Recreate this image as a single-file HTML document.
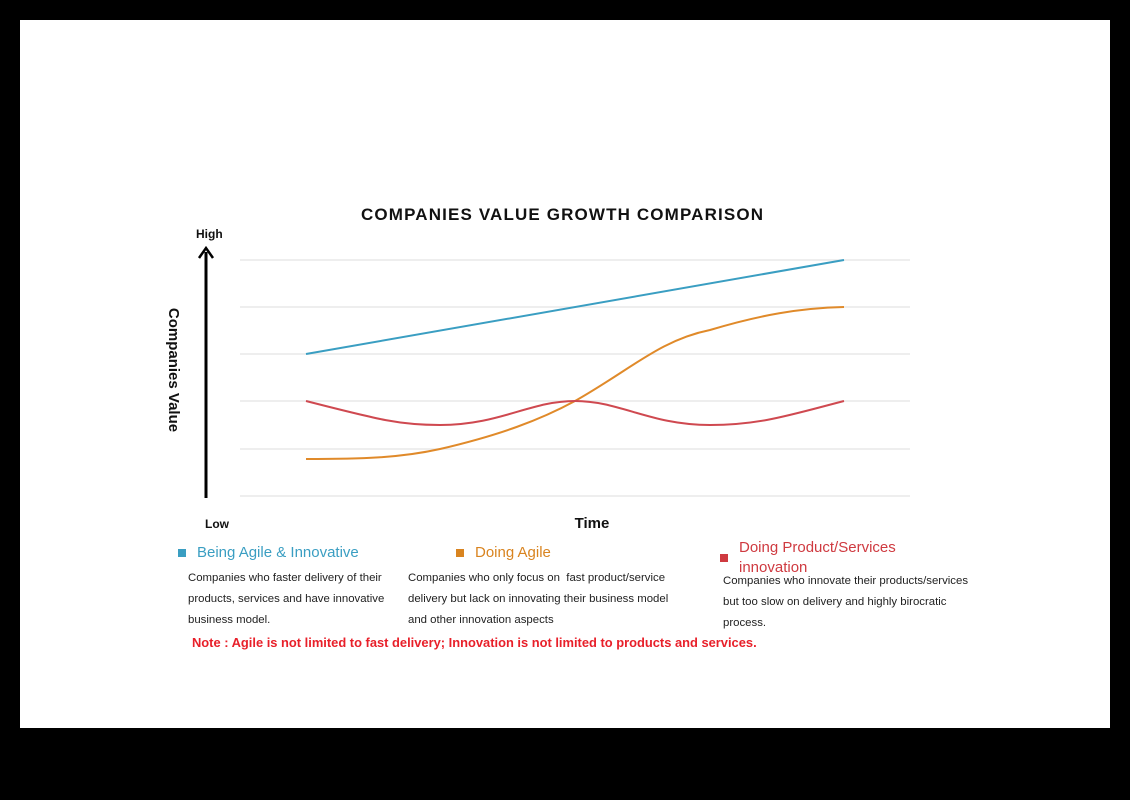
<!DOCTYPE html>
<html><head><style>
html,body{margin:0;padding:0;background:#000;}
body{width:1130px;height:800px;position:relative;overflow:hidden;font-family:"Liberation Sans",sans-serif;}
.w{position:absolute;left:20px;top:20px;width:1090px;height:708px;background:#fff;}
.t{position:absolute;white-space:nowrap;}
.d{font-size:11.4px;color:#222;line-height:21px;}
</style></head><body>
<div class="w"></div>
<svg style="position:absolute;left:0;top:0" width="1130" height="800">
<g stroke="#e8e8e8" stroke-width="1.5">
<line x1="240" y1="260" x2="910" y2="260"/><line x1="240" y1="307" x2="910" y2="307"/>
<line x1="240" y1="354" x2="910" y2="354"/><line x1="240" y1="401" x2="910" y2="401"/>
<line x1="240" y1="449" x2="910" y2="449"/><line x1="240" y1="496" x2="910" y2="496"/>
</g>
<line x1="206" y1="498" x2="206" y2="252" stroke="#000" stroke-width="3"/>
<polyline points="199,258 206,248 213,258" fill="none" stroke="#000" stroke-width="2.5"/>
<line x1="306" y1="354" x2="844" y2="260" stroke="#3a9ec2" stroke-width="2"/>
<path d="M306,459 C360,459 400,458 440,449 C500,435 540,420 575,401 C630,370 660,340 710,330 C760,315 800,308 844,307" fill="none" stroke="#e08a2a" stroke-width="2"/>
<path d="M306,401 C380,420 400,425 440,425 C500,425 530,401 575,401 C620,401 650,425 710,425 C760,425 790,415 844,401" fill="none" stroke="#cf4950" stroke-width="2"/>
<text x="562" y="220" text-anchor="middle" font-family="Liberation Sans" font-weight="bold" font-size="17" fill="#111" textLength="402">COMPANIES VALUE GROWTH COMPARISON</text>
<text x="196" y="238" font-weight="bold" font-size="12" fill="#111">High</text>
<text x="205" y="528" font-weight="bold" font-size="12" fill="#111">Low</text>
<text x="592" y="528" text-anchor="middle" font-weight="bold" font-size="15" fill="#111">Time</text>
<text transform="translate(169,370) rotate(90)" text-anchor="middle" font-weight="bold" font-size="15" fill="#111">Companies Value</text>
</svg>
<div class="t" style="left:178px;top:549px;width:8px;height:8px;background:#3a9ec2"></div>
<div class="t" style="left:197px;top:544px;font-size:15px;color:#3a9ec2">Being Agile &amp; Innovative</div>
<div class="t" style="left:456px;top:549px;width:8px;height:8px;background:#d98420"></div>
<div class="t" style="left:475px;top:544px;font-size:15px;color:#d98420">Doing Agile</div>
<div class="t" style="left:720px;top:554px;width:8px;height:8px;background:#cf3a40"></div>
<div class="t" style="left:739px;top:538px;font-size:15px;color:#cf3a40;line-height:20px">Doing Product/Services<br>innovation</div>
<div class="t d" style="left:188px;top:568px">Companies who faster delivery of their<br>products, services and have innovative<br>business model.</div>
<div class="t d" style="left:408px;top:568px">Companies who only focus on&nbsp; fast product/service<br>delivery but lack on innovating their business model<br>and other innovation aspects</div>
<div class="t d" style="left:723px;top:571px">Companies who innovate their products/services<br>but too slow on delivery and highly birocratic<br>process.</div>
<div class="t" style="left:192px;top:635px;font-size:12.9px;font-weight:bold;color:#e8202a">Note : Agile is not limited to fast delivery; Innovation is not limited to products and services.</div>
</body></html>
